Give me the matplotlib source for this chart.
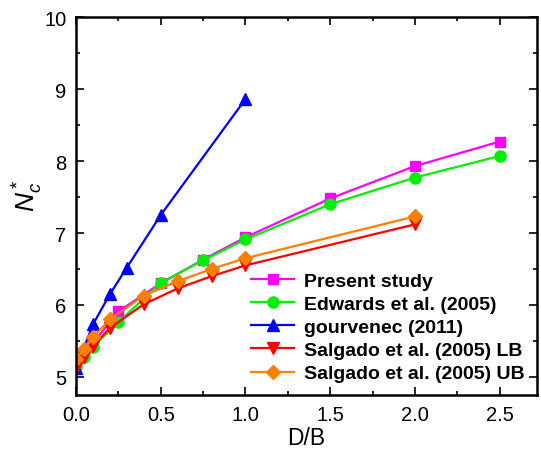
import matplotlib
matplotlib.use('Agg')
import matplotlib.pyplot as plt
from matplotlib.ticker import MultipleLocator, FormatStrFormatter

plt.rcParams['font.family'] = ['Liberation Sans', 'DejaVu Sans']
plt.rcParams['mathtext.fontset'] = 'custom'
plt.rcParams['mathtext.rm'] = 'Liberation Sans'
plt.rcParams['mathtext.it'] = 'Liberation Sans:italic'

# Data
present_x = [0.0, 0.05, 0.1, 0.25, 0.5, 0.75, 1.0, 1.5, 2.0, 2.5]
present_y = [5.2, 5.33, 5.47, 5.91, 6.30, 6.63, 6.94, 7.48, 7.93, 8.27]

edwards_x = [0.0, 0.05, 0.1, 0.25, 0.5, 0.75, 1.0, 1.5, 2.0, 2.5]
edwards_y = [5.14, 5.28, 5.42, 5.76, 6.31, 6.62, 6.91, 7.40, 7.77, 8.07]

gourv_x = [0.0, 0.1, 0.2, 0.3, 0.5, 1.0]
gourv_y = [5.12, 5.73, 6.15, 6.52, 7.25, 8.86]

lb_x = [0.0, 0.05, 0.1, 0.2, 0.4, 0.6, 0.8, 1.0, 2.0]
lb_y = [5.12, 5.28, 5.43, 5.68, 6.01, 6.23, 6.40, 6.55, 7.12]

ub_x = [0.0, 0.05, 0.1, 0.2, 0.4, 0.6, 0.8, 1.0, 2.0]
ub_y = [5.25, 5.39, 5.55, 5.80, 6.13, 6.33, 6.50, 6.65, 7.23]

fig = plt.figure(figsize=(5.41, 4.52), dpi=100)
ax = fig.add_axes([0.1405, 0.124, 0.852, 0.836])

ax.plot(present_x, present_y, '-s', color='#FF00FF', lw=1.6, ms=7, label='Present study')
ax.plot(edwards_x, edwards_y, '-o', color='#00EE00', lw=1.6, ms=8, label='Edwards et al. (2005)')
ax.plot(gourv_x, gourv_y, '-^', color='#0000FF', lw=1.6, ms=8, label='gourvenec (2011)')
ax.plot(lb_x, lb_y, '-v', color='#FF0000', lw=1.6, ms=8, label='Salgado et al. (2005) LB')
ax.plot(ub_x, ub_y, '-D', color='#FF7F00', lw=1.6, ms=7, label='Salgado et al. (2005) UB')

ax.set_xlim(0, 2.72)
ax.set_ylim(4.75, 10)
ax.xaxis.set_major_locator(MultipleLocator(0.5))
ax.xaxis.set_minor_locator(MultipleLocator(0.25))
ax.yaxis.set_major_locator(MultipleLocator(1))
ax.yaxis.set_minor_locator(MultipleLocator(0.5))
ax.xaxis.set_major_formatter(FormatStrFormatter('%.1f'))
ax.tick_params(which='both', direction='in', top=True, right=True, labelsize=14.5, width=1.2)
ax.tick_params(which='major', length=6, pad=7)
ax.tick_params(which='minor', length=3)
for s in ax.spines.values():
    s.set_linewidth(1.8)

ax.set_xlabel('D/B', fontsize=16.5, labelpad=2)
ax.set_ylabel('$N^*_c$', fontsize=19)
ax.yaxis.set_label_coords(-0.067, 0.53)

leg = ax.legend(loc='lower right', frameon=False, prop={'weight': 'bold', 'size': 14},
                handlelength=2.2, handletextpad=0.5, labelspacing=0.28, borderaxespad=0.25)

plt.savefig('out.png', dpi=100)
